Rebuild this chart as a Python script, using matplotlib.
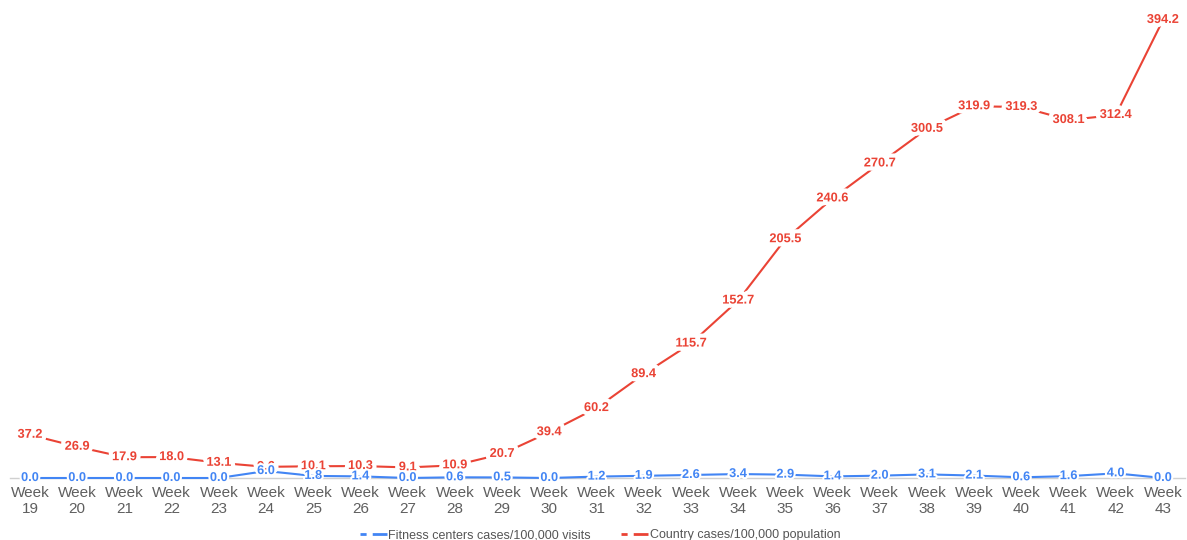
import matplotlib.pyplot as plt
import matplotlib.patheffects as pe
from matplotlib.lines import Line2D

plt.rcParams['font.family'] = ['Liberation Sans', 'DejaVu Sans']

weeks = [str(w) for w in range(19, 44)]
fitness = [0.0, 0.0, 0.0, 0.0, 0.0, 6.0, 1.8, 1.4, 0.0, 0.6, 0.5, 0.0, 1.2,
           1.9, 2.6, 3.4, 2.9, 1.4, 2.0, 3.1, 2.1, 0.6, 1.6, 4.0, 0.0]
country = [37.2, 26.9, 17.9, 18.0, 13.1, 9.6, 10.1, 10.3, 9.1, 10.9, 20.7,
           39.4, 60.2, 89.4, 115.7, 152.7, 205.5, 240.6, 270.7, 300.5, 319.9,
           319.3, 308.1, 312.4, 394.2]
names = ['Fitness centers cases/100,000 visits', 'Country cases/100,000 population']

blue = '#4285f4'
red = '#ea4335'

W, H = 1187, 540
fig = plt.figure(figsize=(W / 100, H / 100), dpi=100)
# axes from x=10..1185 px, y(0)=478 px
ax = fig.add_axes([10 / W, (H - 478) / H, 1175 / W, 473 / H])
x = list(range(len(weeks)))
ax.set_xlim(-20 / 47.2, 24 + 22 / 47.2)
ax.set_ylim(0, 473 / 1.162)

ax.axhline(0, color='#d0d0d0', lw=1, zorder=1, clip_on=False)
ax.plot(x, fitness, color=blue, lw=1.5, zorder=2, clip_on=False)
ax.plot(x, country, color=red, lw=1.5, zorder=2, clip_on=False)

# white halo breaks the line round each label; blue drawn last so the
# low fitness values stay readable where the two series meet
for vals, col, z in [(country, red, 3), (fitness, blue, 4)]:
    for xi, v in zip(x, vals):
        ax.text(xi, v, f'{v:.1f}', color=col, fontsize=9.2, fontweight='bold',
                ha='center', va='center', zorder=z,
                path_effects=[pe.withStroke(linewidth=3 if col == blue else 6,
                                            foreground='white')])

ax.set_xticks(x)
ax.set_xticklabels(['Week\n' + w for w in weeks], color='#5f5f5f', fontsize=11,
                   linespacing=1.15)
ax.tick_params(axis='x', length=0, pad=6)
ax.set_yticks([])
for s in ax.spines.values():
    s.set_visible(False)

handles = [Line2D([0], [0], color=blue, lw=2, dashes=(2.2, 2.2, 7, 0.01)),
           Line2D([0], [0], color=red, lw=2, dashes=(2.2, 2.2, 7, 0.01))]
fig.legend(handles, names, loc='center', bbox_to_anchor=(600 / W, 5 / H),
           ncol=2, frameon=False, fontsize=9, labelcolor='#555555',
           handlelength=2.2, handletextpad=0.1, columnspacing=2.4)

fig.savefig('out.png', dpi=100)
